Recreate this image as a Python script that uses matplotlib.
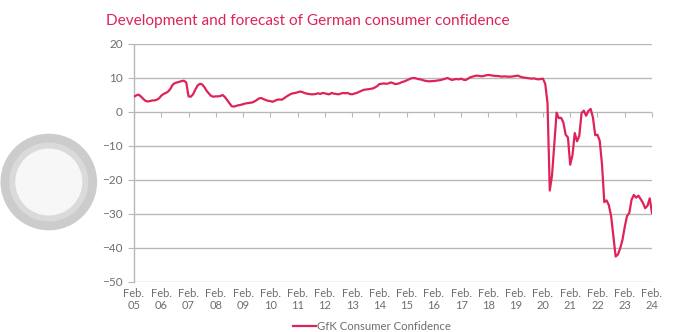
import matplotlib
matplotlib.use("Agg")
import matplotlib.pyplot as plt
from matplotlib.patches import Circle
import numpy as np

# GfK consumer confidence, monthly, Feb 2005 - Feb 2024 (one row per Feb..Jan year)
confidence = [
    4.5, 4.9, 5.1, 4.6, 3.9, 3.3, 3.1, 3.2, 3.4, 3.4, 3.6, 4.0,            # 05
    4.8, 5.3, 5.6, 6.0, 6.8, 8.0, 8.5, 8.7, 8.9, 9.1, 9.2, 8.7,            # 06
    4.6, 4.5, 5.2, 6.6, 7.8, 8.3, 8.1, 7.3, 6.2, 5.4, 4.7, 4.5,            # 07
    4.6, 4.6, 4.7, 5.0, 4.4, 3.5, 2.6, 1.7, 1.6, 1.8, 2.0, 2.1,            # 08
    2.3, 2.5, 2.6, 2.7, 2.8, 3.1, 3.5, 4.0, 4.1, 3.8, 3.5, 3.3,            # 09
    3.2, 3.0, 3.3, 3.6, 3.7, 3.6, 4.0, 4.5, 4.9, 5.3, 5.5, 5.6,            # 10
    5.8, 6.0, 5.9, 5.6, 5.4, 5.3, 5.2, 5.2, 5.3, 5.5, 5.3, 5.6,            # 11
    5.5, 5.3, 5.2, 5.6, 5.4, 5.3, 5.2, 5.4, 5.6, 5.5, 5.6, 5.3,            # 12
    5.2, 5.4, 5.6, 5.9, 6.2, 6.5, 6.6, 6.7, 6.8, 6.9, 7.2, 7.6,            # 13
    8.2, 8.3, 8.4, 8.3, 8.4, 8.7, 8.5, 8.2, 8.3, 8.5, 8.8, 9.0,            # 14
    9.3, 9.6, 9.9, 10.0, 9.9, 9.7, 9.6, 9.4, 9.2, 9.1, 9.0, 9.1,           # 15
    9.1, 9.2, 9.3, 9.4, 9.6, 9.8, 10.0, 9.7, 9.4, 9.6, 9.7, 9.6,           # 16
    9.8, 9.5, 9.4, 9.8, 10.2, 10.4, 10.6, 10.7, 10.6, 10.5, 10.6, 10.8,    # 17
    10.9, 10.8, 10.7, 10.6, 10.6, 10.5, 10.4, 10.5, 10.4, 10.4, 10.4, 10.5,  # 18
    10.6, 10.7, 10.4, 10.2, 10.1, 10.0, 9.9, 9.8, 9.9, 9.7, 9.6, 9.7,      # 19
    9.8, 8.3, 2.7, -23.1, -18.6, -9.4, -0.2, -1.8, -1.7, -3.1, -6.7, -7.5,  # 20
    -15.5, -12.7, -6.2, -8.6, -7.0, -0.3, 0.4, -1.1, 0.3, 0.9, -1.6, -6.8,  # 21
    -6.7, -8.5, -15.5, -26.5, -26.0, -27.4, -30.6, -36.5, -42.5, -41.9, -40.1, -37.6,  # 22
    -33.8, -30.6, -29.7, -25.8, -24.4, -25.2, -24.6, -25.6, -26.7, -28.3, -27.6, -25.4,  # 23
    -29.7,                                                                  # 24
]
tick_years = ["05", "06", "07", "08", "09", "10", "11", "12", "13", "14",
              "15", "16", "17", "18", "19", "20", "21", "22", "23", "24"]
y_ticks = [20, 10, 0, -10, -20, -30, -40, -50]

red = "#de2359"
grey_text = "#6e6e6e"
grey_line = "#b8b8b8"
plt.rcParams["font.family"] = ["Lato", "DejaVu Sans"]

months = np.arange(len(confidence))
tick_pos = np.arange(len(tick_years)) * 12

fig = plt.figure(figsize=(6.81, 3.32), dpi=100)
ax = fig.add_axes([134 / 681, 1 - 282 / 332, (652 - 134) / 681, (282 - 44) / 332])

ax.plot(months, confidence, color=red, linewidth=1.6, label="GfK Consumer Confidence",
        solid_joinstyle="round", zorder=3)

ax.set_xlim(0, tick_pos[-1])
ax.set_ylim(-50, 20)
ax.set_yticks(y_ticks)
ax.yaxis.grid(True, color=grey_line, linewidth=1.0)
ax.set_axisbelow(True)

ax.set_xticks(tick_pos, labels=[f"Feb.\n{y}" for y in tick_years])
ax.tick_params(axis="x", length=0, pad=4, labelsize=8, labelcolor=grey_text)
ax.tick_params(axis="y", length=4, width=0.8, color=grey_line, pad=4,
               labelsize=8.5, labelcolor=grey_text)
for side in ["top", "right", "bottom"]:
    ax.spines[side].set_visible(False)
ax.spines["left"].set_color(grey_line)
ax.spines["left"].set_linewidth(1.0)

# small year ticks hanging from the zero line
zero_axis = ax.secondary_xaxis(0, transform=ax.transData)
zero_axis.set_xticks(tick_pos, labels=[])
zero_axis.tick_params(length=3.5, width=0.8, color=grey_line)
for sp in zero_axis.spines.values():
    sp.set_visible(False)

fig.text(106 / 681, 1 - 21 / 332, "Development and forecast of German consumer confidence",
         color=red, fontsize=11.1, ha="left", va="center")

fig.legend(loc="center left", bbox_to_anchor=(293 / 681, 1 - 326 / 332), frameon=False,
           fontsize=8.2, handlelength=2.0, handletextpad=0.15, labelcolor=grey_text,
           borderaxespad=0, borderpad=0)

# decorative rings on the left
for r, c in [(0.483, "#cccccc"), (0.395, "#dadada"), (0.335, "#f7f7f7")]:
    fig.add_artist(Circle((0.488, (332 - 182) / 100), r, transform=fig.dpi_scale_trans,
                          facecolor=c, edgecolor="none", zorder=0))

fig.savefig("out.png", dpi=100)
